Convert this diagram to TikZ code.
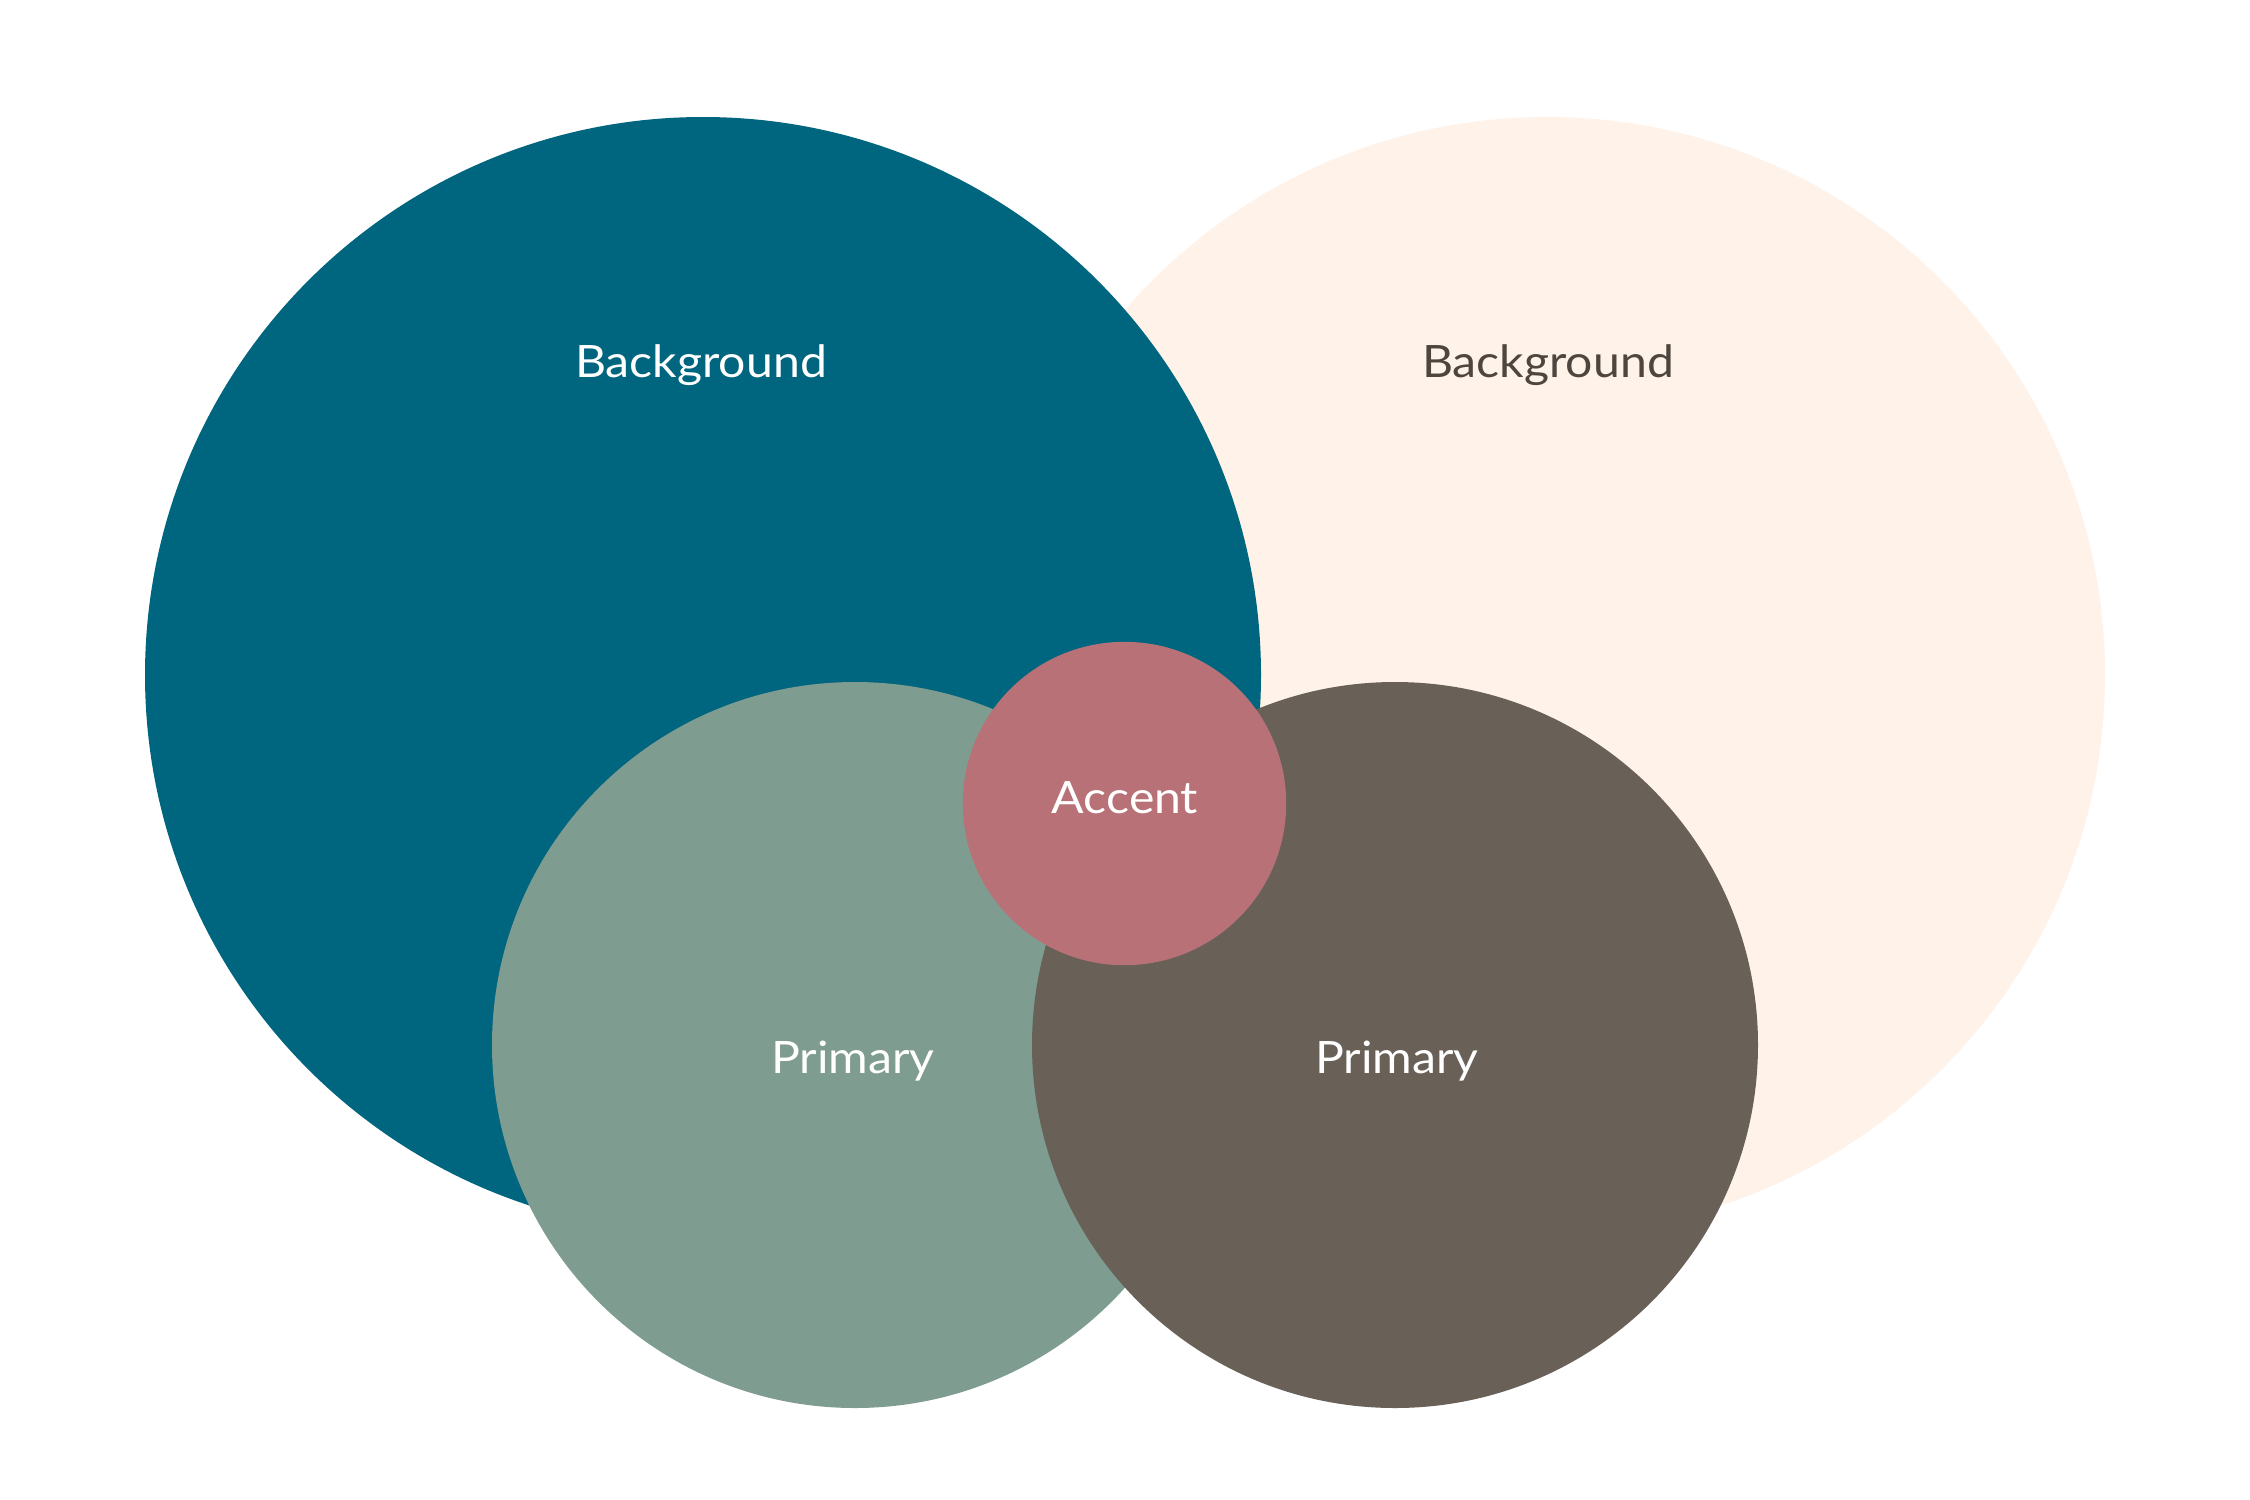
\documentclass[tikz,border=0pt]{standalone}
\usepackage{fontspec}
\setmainfont{Lato}[FakeStretch=1.08]
\definecolor{teal1}{RGB}{0,101,127}
\definecolor{cream1}{RGB}{254,242,233}
\definecolor{green1}{RGB}{126,156,143}
\definecolor{brown1}{RGB}{105,97,88}
\definecolor{accent1}{RGB}{184,114,119}
\definecolor{darktext}{RGB}{78,70,62}
\tikzset{
  blob/.style={circle, inner sep=0pt, draw=none},
  lbl/.style={anchor=base, inner sep=0pt, font=\fontsize{22.3}{26}\selectfont, text=white}
}
\begin{document}
\begin{tikzpicture}[x=0.5pt,y=-0.5pt]
\useasboundingbox (0,0) rectangle (2250,1500);
\fill[white] (0,0) rectangle (2250,1500);
\node[blob, fill=cream1, minimum size=558pt] (bgR) at (1547,675) {};
\node[blob, fill=teal1, minimum size=558pt] (bgL) at (703,675) {};
\node[blob, fill=green1, minimum size=363pt] (prL) at (855,1045) {};
\node[blob, fill=brown1, minimum size=363pt] (prR) at (1395,1045) {};
\node[blob, fill=accent1, minimum size=161.7pt] (acc) at (1124.5,803.5) {};
\node[lbl] (tBgL) at (701,377) {Background};
\node[lbl, text=darktext] (tBgR) at (1548,377) {Background};
\node[lbl] (tAcc) at (1125,813) {Accent};
\node[lbl] (tPrL) at (853,1073) {Primary};
\node[lbl] (tPrR) at (1397,1073) {Primary};
\end{tikzpicture}
\end{document}
